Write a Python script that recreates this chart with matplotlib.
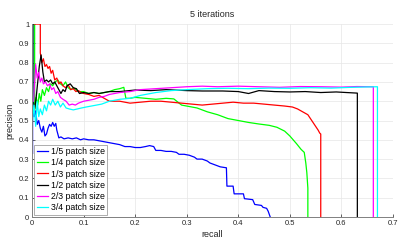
import matplotlib
matplotlib.use("Agg")
import matplotlib.pyplot as plt

plt.rcParams['font.family'] = ['Liberation Sans', 'DejaVu Sans']

labels = ["1/5 patch size", "1/4 patch size", "1/3 patch size",
          "1/2 patch size", "2/3 patch size", "3/4 patch size"]
colors = ["#0000ff", "#00ff00", "#ff0000", "#000000", "#ff00ff", "#00ffff"]

recall_15 = [0.001, 0.001, 0.004, 0.007, 0.010, 0.013, 0.016, 0.019, 0.022, 0.025, 0.028, 0.031,
             0.034, 0.037, 0.040, 0.043, 0.046, 0.048, 0.050, 0.052, 0.056, 0.062, 0.070, 0.078,
             0.086, 0.094, 0.100, 0.110, 0.120, 0.130, 0.140, 0.150, 0.160, 0.170, 0.180, 0.190,
             0.200, 0.210, 0.220, 0.228, 0.236, 0.240, 0.250, 0.260, 0.270, 0.280, 0.285, 0.295,
             0.305, 0.315, 0.320, 0.330, 0.340, 0.345, 0.355, 0.365, 0.377, 0.378, 0.390, 0.392,
             0.410, 0.412, 0.428, 0.432, 0.445, 0.448, 0.455, 0.458, 0.462]
prec_15 = [0.33, 0.60, 0.52, 0.55, 0.48, 0.50, 0.46, 0.44, 0.47, 0.42, 0.43, 0.46,
           0.48, 0.47, 0.49, 0.47, 0.485, 0.45, 0.43, 0.41, 0.415, 0.405, 0.41, 0.405,
           0.41, 0.40, 0.405, 0.40, 0.40, 0.395, 0.39, 0.385, 0.38, 0.375, 0.365, 0.365,
           0.36, 0.36, 0.365, 0.37, 0.365, 0.345, 0.345, 0.34, 0.34, 0.335, 0.325, 0.325,
           0.32, 0.31, 0.30, 0.30, 0.29, 0.28, 0.27, 0.26, 0.255, 0.16, 0.16, 0.12,
           0.12, 0.095, 0.09, 0.065, 0.06, 0.05, 0.045, 0.03, 0.0]

recall_14 = [0.005, 0.005, 0.008, 0.011, 0.014, 0.017, 0.020, 0.024, 0.028, 0.032, 0.036, 0.040,
             0.045, 0.050, 0.055, 0.060, 0.065, 0.070, 0.075, 0.080, 0.090, 0.100, 0.110, 0.120,
             0.130, 0.140, 0.150, 0.160, 0.170, 0.178, 0.182, 0.190, 0.200, 0.220, 0.240, 0.260,
             0.275, 0.290, 0.320, 0.340, 0.360, 0.380, 0.400, 0.420, 0.440, 0.460, 0.475, 0.490,
             0.500, 0.513, 0.522, 0.528, 0.531, 0.533, 0.535, 0.535]
prec_14 = [1.0, 0.55, 0.62, 0.58, 0.64, 0.60, 0.66, 0.63, 0.67, 0.65, 0.69, 0.68,
           0.70, 0.71, 0.69, 0.68, 0.70, 0.67, 0.66, 0.67, 0.65, 0.65, 0.64, 0.645,
           0.64, 0.645, 0.65, 0.66, 0.665, 0.672, 0.615, 0.615, 0.62, 0.615, 0.61, 0.615,
           0.612, 0.58, 0.565, 0.545, 0.53, 0.51, 0.50, 0.49, 0.482, 0.475, 0.465, 0.445,
           0.42, 0.38, 0.35, 0.335, 0.28, 0.23, 0.15, 0.0]

recall_13 = [0.003, 0.016, 0.016, 0.019, 0.022, 0.025, 0.028, 0.031, 0.034, 0.037, 0.040, 0.044,
             0.048, 0.052, 0.056, 0.060, 0.065, 0.070, 0.075, 0.080, 0.085, 0.090, 0.095, 0.100,
             0.110, 0.120, 0.130, 0.140, 0.150, 0.170, 0.190, 0.210, 0.230, 0.250, 0.270, 0.290,
             0.310, 0.330, 0.350, 0.370, 0.390, 0.410, 0.430, 0.450, 0.470, 0.490, 0.505, 0.515,
             0.525, 0.535, 0.540, 0.545, 0.550, 0.555, 0.558, 0.560, 0.560]
prec_13 = [1.0, 1.0, 0.85, 0.80, 0.82, 0.78, 0.79, 0.77, 0.78, 0.745, 0.76, 0.71,
           0.72, 0.69, 0.70, 0.68, 0.67, 0.685, 0.66, 0.665, 0.65, 0.655, 0.645, 0.64,
           0.635, 0.625, 0.63, 0.615, 0.60, 0.60, 0.59, 0.595, 0.60, 0.60, 0.595, 0.59,
           0.585, 0.58, 0.585, 0.59, 0.595, 0.59, 0.59, 0.585, 0.58, 0.575, 0.57, 0.56,
           0.545, 0.53, 0.51, 0.49, 0.47, 0.45, 0.435, 0.43, 0.0]

recall_12 = [0.002, 0.002, 0.005, 0.008, 0.011, 0.014, 0.0175, 0.021, 0.024, 0.028, 0.032, 0.036,
             0.040, 0.044, 0.048, 0.052, 0.056, 0.060, 0.064, 0.068, 0.074, 0.080, 0.086, 0.092,
             0.100, 0.110, 0.120, 0.130, 0.150, 0.170, 0.200, 0.230, 0.260, 0.300, 0.330, 0.370,
             0.400, 0.420, 0.440, 0.470, 0.500, 0.530, 0.560, 0.590, 0.610, 0.631, 0.631]
prec_12 = [1.0, 0.60, 0.56, 0.62, 0.70, 0.78, 0.84, 0.75, 0.70, 0.71, 0.70, 0.71,
           0.69, 0.70, 0.68, 0.66, 0.64, 0.66, 0.65, 0.68, 0.69, 0.67, 0.665, 0.64,
           0.645, 0.64, 0.645, 0.64, 0.65, 0.65, 0.658, 0.655, 0.66, 0.655, 0.653, 0.653,
           0.65, 0.64, 0.655, 0.65, 0.648, 0.65, 0.645, 0.648, 0.645, 0.642, 0.0]

recall_23 = [0.003, 0.005, 0.007, 0.010, 0.013, 0.016, 0.019, 0.022, 0.026, 0.030, 0.034, 0.038,
             0.042, 0.046, 0.050, 0.055, 0.060, 0.066, 0.072, 0.078, 0.084, 0.090, 0.100, 0.110,
             0.120, 0.130, 0.140, 0.150, 0.170, 0.190, 0.210, 0.240, 0.270, 0.300, 0.330, 0.360,
             0.400, 0.440, 0.480, 0.520, 0.560, 0.600, 0.630, 0.662, 0.662]
prec_23 = [0.60, 0.70, 0.79, 0.72, 0.75, 0.70, 0.72, 0.69, 0.70, 0.68, 0.69, 0.66,
           0.67, 0.64, 0.65, 0.62, 0.61, 0.60, 0.58, 0.585, 0.58, 0.59, 0.60, 0.605,
           0.61, 0.62, 0.625, 0.635, 0.645, 0.65, 0.66, 0.665, 0.67, 0.675, 0.678, 0.675,
           0.678, 0.675, 0.672, 0.676, 0.675, 0.673, 0.676, 0.675, 0.0]

recall_34 = [0.001, 0.001, 0.004, 0.007, 0.010, 0.013, 0.016, 0.020, 0.024, 0.028, 0.032, 0.036,
             0.040, 0.045, 0.050, 0.055, 0.060, 0.066, 0.072, 0.080, 0.088, 0.096, 0.105, 0.115,
             0.125, 0.135, 0.150, 0.170, 0.190, 0.210, 0.240, 0.270, 0.300, 0.340, 0.380, 0.420,
             0.460, 0.500, 0.540, 0.580, 0.620, 0.650, 0.670, 0.670]
prec_34 = [1.0, 0.50, 0.58, 0.47, 0.60, 0.52, 0.56, 0.53, 0.58, 0.55, 0.60, 0.58,
           0.61, 0.58, 0.60, 0.57, 0.59, 0.565, 0.56, 0.555, 0.56, 0.565, 0.57, 0.575,
           0.58, 0.585, 0.60, 0.61, 0.615, 0.63, 0.645, 0.655, 0.66, 0.665, 0.667, 0.665,
           0.668, 0.667, 0.67, 0.668, 0.672, 0.674, 0.675, 0.0]

recalls = [recall_15, recall_14, recall_13, recall_12, recall_23, recall_34]
precisions = [prec_15, prec_14, prec_13, prec_12, prec_23, prec_34]

fig = plt.figure(figsize=(4.11, 2.49), dpi=100)
ax = fig.add_axes([0.078, 0.1285, 0.878, 0.775])

for r, p, c, lab in zip(recalls, precisions, colors, labels):
    ax.plot(r, p, color=c, lw=0.9, label=lab)

ax.set_xlim(0, 0.7)
ax.set_ylim(0, 1)
xt = [0, 0.1, 0.2, 0.3, 0.4, 0.5, 0.6, 0.7]
yt = [0, 0.1, 0.2, 0.3, 0.4, 0.5, 0.6, 0.7, 0.8, 0.9, 1]
ax.set_xticks(xt)
ax.set_xticklabels(["0", "0.1", "0.2", "0.3", "0.4", "0.5", "0.6", "0.7"])
ax.set_yticks(yt)
ax.set_yticklabels(["0", "0.1", "0.2", "0.3", "0.4", "0.5", "0.6", "0.7", "0.8", "0.9", "1"])
ax.tick_params(direction='in', length=2, width=0.5, labelsize=5.5, colors='#262626', pad=2)
ax.grid(True, color='#e6e6e6', lw=0.5)
ax.set_axisbelow(True)
for s in ['top', 'right']:
    ax.spines[s].set_visible(False)
for s in ['left', 'bottom']:
    ax.spines[s].set_color('#808080')
    ax.spines[s].set_linewidth(0.7)

ax.set_title("5 iterations", fontsize=6.5, color='#262626', pad=5)
ax.set_xlabel("recall", fontsize=6.5, color='#262626', labelpad=2)
ax.set_ylabel("precision", fontsize=6.5, color='#262626', labelpad=3)

leg = ax.legend(loc='lower left', bbox_to_anchor=(0.006, 0.012), borderaxespad=0,
                fontsize=6.3, handlelength=1.3, handletextpad=0.3, labelspacing=0.25,
                borderpad=0.3, fancybox=False, framealpha=1)
leg.get_frame().set_edgecolor('#a0a0a0')
leg.get_frame().set_linewidth(0.6)

fig.savefig("out.png", dpi=100)
